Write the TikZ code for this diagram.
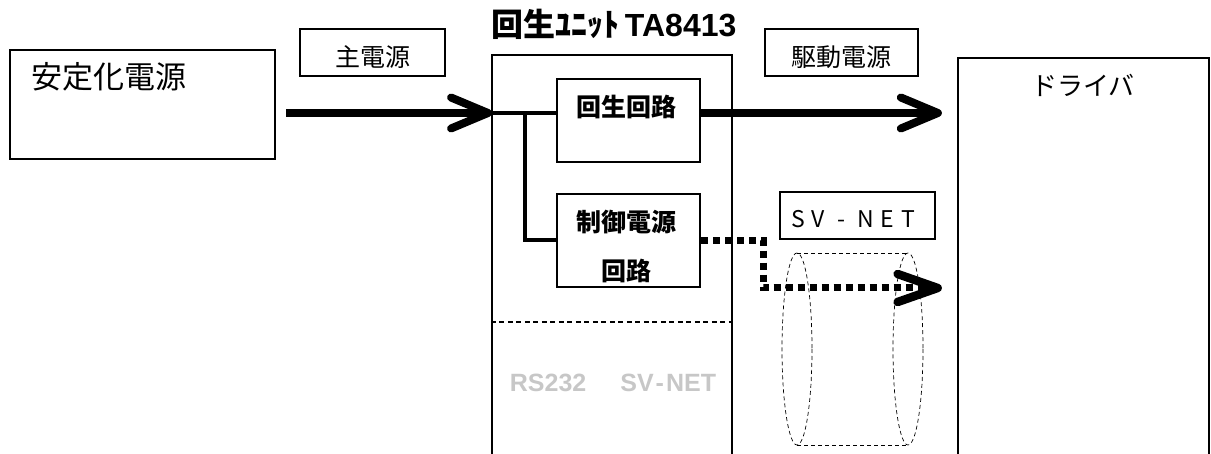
\documentclass[tikz,border=0pt]{standalone}
\usepackage{fontspec}
\newfontfamily\jp{Noto Sans CJK JP}
\newfontfamily\arial{Liberation Sans}
\usetikzlibrary{arrows.meta,calc}
\tikzset{
  box/.style={draw=black,line width=2.2pt,inner sep=0pt,fill=none},
  lbox/.style={draw=black,line width=1.4pt,inner sep=0pt},
  jtext/.style={font=\jp\fontsize{25}{30}\selectfont,inner sep=0pt},
  jbold/.style={font=\jp\bfseries\fontsize{25}{49}\selectfont,inner sep=0pt,align=center},
  bigarrow/.style={line width=8pt,-{Straight Barb[length=37pt,width=31pt,round]}},
  wire/.style={line width=4pt},
  dotarrow/.style={line width=7pt,dash pattern=on 7pt off 5pt,
     -{Straight Barb[length=40pt,width=28pt,round,line width=8.5pt]}},
  thindash/.style={line width=0.7pt,dash pattern=on 4pt off 3pt},
}
\begin{document}
\begin{tikzpicture}[x=1pt,y=-1pt]
\useasboundingbox (0,0) rectangle (1211,454);
% boxes
\node[box,minimum width=265pt,minimum height=109pt] (stab) at (142.5,104.5) {};
\node[jtext,font=\jp\fontsize{31}{32}\selectfont] (stabtxt) at (109,77) {安定化電源};
\node[lbox,minimum width=145pt,minimum height=47pt] (mainlbl) at (372.5,52.5) {};
\node[jtext] (maintxt) at (372.5,57) {主電源};
\node[box,minimum width=240pt,minimum height=414pt] (unit) at (612,262) {};
\node[font=\jp\bfseries\fontsize{32}{34}\selectfont,inner sep=0pt] (title) at (614,24) {回生ﾕﾆｯﾄ\,{\arial\bfseries TA8413}};
\node[box,minimum width=143pt,minimum height=83pt] (regen) at (628.5,120.5) {};
\node[jbold] (regentxt) at (626,107) {回生回路};
\node[box,minimum width=143pt,minimum height=93pt] (ctrl) at (628.5,240.5) {};
\node[jbold] (ctrltxt) at (626,246.5) {制御電源\\回路};
\node[lbox,minimum width=153pt,minimum height=47pt] (drvlbl) at (841.5,52.5) {};
\node[jtext] (drvtxt) at (841.5,57) {駆動電源};
\node[box,minimum width=251pt,minimum height=414pt] (driver) at (1083.5,265) {};
\node[jtext,font=\jp\fontsize{26}{30}\selectfont] (drivertxt) at (1083,85) {ドライバ};
\node[lbox,minimum width=155pt,minimum height=47pt] (svlbl) at (857.5,215.5) {};
\node[jtext,font=\jp\fontsize{23}{24}\selectfont\addfontfeature{LetterSpace=30}] (svtxt) at (853,219) {SV - NET};
% dashed separator
\draw[line width=1.2pt,dash pattern=on 5pt off 3.5pt] (unit.west |- 0,322) -- (unit.east |- 0,322);
\node[font=\arial\bfseries\fontsize{25}{26}\selectfont,text=black!22,inner sep=0pt] (rstxt) at (613,383) {RS232\hspace{34pt}SV\kern2pt-\kern2pt NET};
% cylinder
\draw[thindash] (797,349) ellipse [x radius=15, y radius=96];
\draw[thindash] (908,349) ellipse [x radius=15, y radius=96];
\draw[thindash] (797,253) -- (908,253);
\draw[thindash] (797,445) -- (908,445);
% connectors
\coordinate (pin) at (492,113);
\coordinate (br) at (525,113);
\coordinate (dv) at (763,288);
\draw[bigarrow] ([xshift=10pt]stab.east |- pin) -- (pin);
\draw[wire] (pin) -- (regen.west |- pin);
\draw[wire] (br) |- (ctrl.west);
\draw[bigarrow] (regen.east |- pin) -- ([xshift=-15pt]driver.west |- pin);
\draw[dotarrow] (ctrl.east) -| (dv) -- ([xshift=-15pt]driver.west |- dv);
\end{tikzpicture}
\end{document}
